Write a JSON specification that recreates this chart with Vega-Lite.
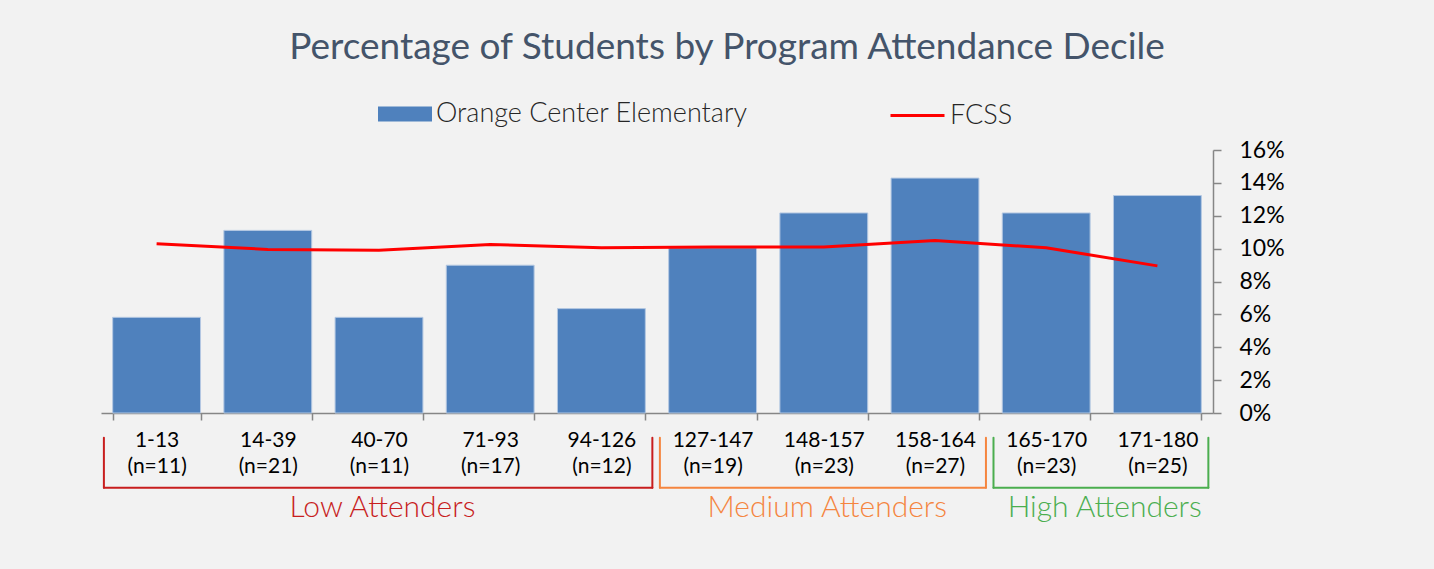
{
  "$schema": "https://vega.github.io/schema/vega-lite/v6.json",
  "autosize": {"type": "none"},
  "width": 1112,
  "height": 263,
  "padding": {"left": 101, "top": 150, "right": 221, "bottom": 156},
  "background": "#F2F2F2",
  "config": {
    "view": {"stroke": null},
    "font": "Lato",
    "axisX": {
      "labelAngle": 0,
      "labelExpr": "split(datum.label, ' ')",
      "labelFont": "Lato",
      "labelFontSize": 21,
      "labelLineHeight": 26,
      "labelColor": "#000000",
      "labelPadding": 9,
      "labelOverlap": false,
      "tickBand": "extent",
      "tickSize": 7,
      "tickColor": "#868686",
      "tickWidth": 1.5,
      "domainColor": "#868686",
      "domainWidth": 1.5,
      "grid": false
    },
    "axisY": {
      "labelFont": "Lato",
      "labelFontSize": 23,
      "labelColor": "#000000",
      "labelPadding": 18,
      "labelOverlap": false,
      "tickSize": 8,
      "tickColor": "#868686",
      "tickWidth": 1.5,
      "domainColor": "#868686",
      "domainWidth": 1.5,
      "grid": false
    }
  },
  "title": {
    "text": "Percentage of Students by Program Attendance Decile",
    "font": "Lato",
    "fontSize": 37,
    "fontWeight": "normal",
    "color": "#44546A",
    "anchor": "middle",
    "dx": 70,
    "offset": 20
  },
  "datasets": {
    "deciles": [
      {"decile": "1-13 (n=11)", "oce": 0.0582, "fcss": 0.1030},
      {"decile": "14-39 (n=21)", "oce": 0.1111, "fcss": 0.0995},
      {"decile": "40-70 (n=11)", "oce": 0.0582, "fcss": 0.0990},
      {"decile": "71-93 (n=17)", "oce": 0.0899, "fcss": 0.1025},
      {"decile": "94-126 (n=12)", "oce": 0.0635, "fcss": 0.1005},
      {"decile": "127-147 (n=19)", "oce": 0.1005, "fcss": 0.1010},
      {"decile": "148-157 (n=23)", "oce": 0.1217, "fcss": 0.1010},
      {"decile": "158-164 (n=27)", "oce": 0.1429, "fcss": 0.1050},
      {"decile": "165-170 (n=23)", "oce": 0.1217, "fcss": 0.1005},
      {"decile": "171-180 (n=25)", "oce": 0.1323, "fcss": 0.0895}
    ],
    "groups": [
      {"group": "Low Attenders", "first": "1-13 (n=11)", "mid": "40-70 (n=11)", "last": "94-126 (n=12)"},
      {"group": "Medium Attenders", "first": "127-147 (n=19)", "mid": "148-157 (n=23)", "last": "158-164 (n=27)"},
      {"group": "High Attenders", "first": "165-170 (n=23)", "mid": "171-180 (n=25)", "last": "171-180 (n=25)"}
    ]
  },
  "layer": [
    {
      "data": {"name": "deciles"},
      "mark": {"type": "bar", "stroke": "#B4C8E2", "strokeWidth": 1},
      "encoding": {
        "x": {
          "field": "decile",
          "type": "nominal",
          "scale": {
            "domain": ["1-13 (n=11)", "14-39 (n=21)", "40-70 (n=11)", "71-93 (n=17)", "94-126 (n=12)", "127-147 (n=19)", "148-157 (n=23)", "158-164 (n=27)", "165-170 (n=23)", "171-180 (n=25)"],
            "paddingInner": 0.21,
            "paddingOuter": 0.105
          },
          "axis": {"title": null, "orient": "bottom"}
        },
        "y": {
          "field": "oce",
          "type": "quantitative",
          "scale": {"domain": [0, 0.16], "nice": false},
          "axis": {"title": null, "orient": "right", "values": [0, 0.02, 0.04, 0.06, 0.08, 0.1, 0.12, 0.14, 0.16], "format": ".0%", "labelOverlap": false}
        },
        "fill": {
          "datum": "Orange Center Elementary",
          "type": "nominal",
          "scale": {"domain": ["Orange Center Elementary"], "range": ["#4F81BD"]},
          "legend": {
            "title": null,
            "orient": "none",
            "legendX": 277,
            "legendY": -63,
            "labelFont": "Lato",
            "labelFontSize": 27,
            "labelFontWeight": 300,
            "labelColor": "#262626",
            "labelOffset": 4,
            "labelLimit": 500,
            "symbolType": "M-1,-0.28H1V0.28H-1Z",
            "symbolSize": 2916,
            "symbolStrokeWidth": 0
          }
        }
      }
    },
    {
      "data": {"name": "deciles"},
      "mark": {"type": "line", "strokeWidth": 3},
      "encoding": {
        "x": {"field": "decile", "type": "nominal", "axis": {"title": null, "orient": "bottom"}},
        "y": {"field": "fcss", "type": "quantitative", "axis": {"title": null, "orient": "right", "values": [0, 0.02, 0.04, 0.06, 0.08, 0.1, 0.12, 0.14, 0.16], "format": ".0%", "labelOverlap": false}},
        "stroke": {
          "datum": "FCSS",
          "type": "nominal",
          "scale": {"domain": ["FCSS"], "range": ["#FF0000"]},
          "legend": {
            "title": null,
            "orient": "none",
            "legendX": 788,
            "legendY": -63,
            "labelFont": "Lato",
            "labelFontSize": 27,
            "labelFontWeight": 300,
            "labelColor": "#262626",
            "labelOffset": 4,
            "labelLimit": 500,
            "symbolType": "stroke",
            "symbolSize": 2916,
            "symbolStrokeWidth": 3
          }
        }
      }
    },
    {
      "data": {"name": "groups"},
      "mark": {"type": "rule", "strokeWidth": 2, "strokeCap": "round"},
      "encoding": {
        "x": {"field": "first", "type": "nominal", "bandPosition": -0.1, "axis": {"title": null, "orient": "bottom"}},
        "y": {"datum": -0.015, "type": "quantitative", "axis": {"title": null, "orient": "right", "values": [0, 0.02, 0.04, 0.06, 0.08, 0.1, 0.12, 0.14, 0.16], "format": ".0%", "labelOverlap": false}},
        "y2": {"datum": -0.0455},
        "color": {
          "field": "group",
          "type": "nominal",
          "scale": {"domain": ["Low Attenders", "Medium Attenders", "High Attenders"], "range": ["#C81E1E", "#F5853F", "#4BAE4F"]},
          "legend": null
        }
      }
    },
    {
      "data": {"name": "groups"},
      "mark": {"type": "rule", "strokeWidth": 2, "strokeCap": "round"},
      "encoding": {
        "x": {"field": "last", "type": "nominal", "bandPosition": 1.08, "axis": {"title": null, "orient": "bottom"}},
        "y": {"datum": -0.015, "type": "quantitative", "axis": {"title": null, "orient": "right", "values": [0, 0.02, 0.04, 0.06, 0.08, 0.1, 0.12, 0.14, 0.16], "format": ".0%", "labelOverlap": false}},
        "y2": {"datum": -0.0455},
        "color": {"field": "group", "type": "nominal", "legend": null}
      }
    },
    {
      "data": {"name": "groups"},
      "mark": {"type": "rule", "strokeWidth": 2, "strokeCap": "round"},
      "encoding": {
        "x": {"field": "first", "type": "nominal", "bandPosition": -0.1, "axis": {"title": null, "orient": "bottom"}},
        "x2": {"field": "last", "bandPosition": 1.08},
        "y": {"datum": -0.0455, "type": "quantitative", "axis": {"title": null, "orient": "right", "values": [0, 0.02, 0.04, 0.06, 0.08, 0.1, 0.12, 0.14, 0.16], "format": ".0%", "labelOverlap": false}},
        "color": {"field": "group", "type": "nominal", "legend": null}
      }
    },
    {
      "data": {"name": "groups"},
      "transform": [{"filter": "datum.group != 'High Attenders'"}],
      "mark": {"type": "text", "font": "Lato", "fontSize": 30, "fontWeight": 300, "baseline": "middle", "align": "center"},
      "encoding": {
        "x": {"field": "mid", "type": "nominal", "bandPosition": 0.54, "axis": {"title": null, "orient": "bottom"}},
        "y": {"datum": -0.058, "type": "quantitative", "axis": {"title": null, "orient": "right", "values": [0, 0.02, 0.04, 0.06, 0.08, 0.1, 0.12, 0.14, 0.16], "format": ".0%", "labelOverlap": false}},
        "text": {"field": "group"},
        "color": {"field": "group", "type": "nominal", "legend": null}
      }
    },
    {
      "data": {"name": "groups"},
      "transform": [{"filter": "datum.group == 'High Attenders'"}],
      "mark": {"type": "text", "font": "Lato", "fontSize": 30, "fontWeight": 300, "baseline": "middle", "align": "center"},
      "encoding": {
        "x": {"field": "last", "type": "nominal", "bandPosition": -0.1, "axis": {"title": null, "orient": "bottom"}},
        "y": {"datum": -0.058, "type": "quantitative", "axis": {"title": null, "orient": "right", "values": [0, 0.02, 0.04, 0.06, 0.08, 0.1, 0.12, 0.14, 0.16], "format": ".0%", "labelOverlap": false}},
        "text": {"field": "group"},
        "color": {"field": "group", "type": "nominal", "legend": null}
      }
    }
  ]
}
